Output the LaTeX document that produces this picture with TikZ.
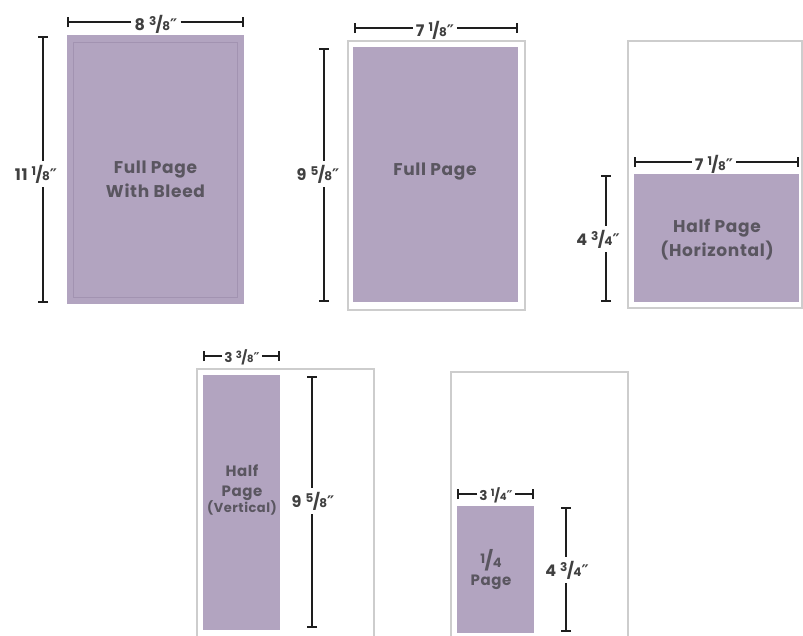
\documentclass[tikz,border=0pt]{standalone}
\usepackage{fontspec}
\setmainfont{Poppins}[LetterSpace=4]
\newfontfamily\djv{DejaVu Sans}
\usetikzlibrary{arrows.meta}
\definecolor{lav}{HTML}{B2A4C0}
\definecolor{lavedge}{HTML}{A293B1}
\definecolor{txt}{HTML}{5A5660}
\definecolor{dimc}{HTML}{1E1E1E}
\definecolor{dimtxt}{HTML}{404040}
\definecolor{frame}{HTML}{CDCDCD}
\newcommand\fr[2]{\raisebox{0.3em}{\fontsize{12}{12}\selectfont #1}\kern-0.6pt/\kern-0.6pt{\fontsize{12}{12}\selectfont #2}}
\newcommand\frs[2]{\raisebox{0.3em}{\fontsize{10}{10}\selectfont #1}\kern-0.5pt/\kern-0.5pt{\fontsize{10}{10}\selectfont #2}}
\newcommand\frq[2]{\raisebox{0.3em}{\fontsize{13}{13}\selectfont #1}\kern-0.6pt{\fontsize{19}{19}\selectfont/}\kern-0.6pt{\fontsize{13}{13}\selectfont #2}}
\newcommand\inch{{\djv\bfseries ″}}
\begin{document}
\begin{tikzpicture}[x=1pt,y=-1pt,
  ad/.style={fill=lav,draw=none},
  frm/.style={draw=frame,line width=1.3pt,fill=white},
  dim/.style={draw=dimc,line width=2.7pt,-{Bar[width=10pt,line width=2.2pt]}},
  lbl/.style={inner sep=0pt,align=center,font=\bfseries\fontsize{17}{24}\selectfont,text=txt},
  lbs/.style={inner sep=0pt,align=center,font=\bfseries\fontsize{15}{20}\selectfont,text=txt},
  dl/.style={inner xsep=3pt,inner ysep=4pt,font=\bfseries\fontsize{16}{16}\selectfont,text=dimtxt},
  dls/.style={inner xsep=2pt,inner ysep=3pt,font=\bfseries\fontsize{13.5}{13.5}\selectfont,text=dimtxt}
]
\useasboundingbox (0,0) rectangle (803,635);
\fill[white] (0,0) rectangle (803,635);

% ---------- Full page with bleed ----------
\path[ad] (67,35) rectangle (244,304);
\draw[lavedge,line width=0.8pt] (73,42) rectangle (237,297);
\node[lbl] (t1) at (155.5,179) {Full Page\\With Bleed};
\coordinate (h1a) at (67,22); \coordinate (h1b) at (244,22);
\node[dl] (d1h) at (156,24) {8 \fr38\inch};
\draw[dim] (d1h.west |- h1a) -- (h1a);
\draw[dim] (d1h.east |- h1b) -- (h1b);
\coordinate (v1a) at (43,36); \coordinate (v1b) at (43,303);
\node[dl] (d1v) at (36,174) {11 \fr18\inch};
\draw[dim] (d1v.north -| v1a) -- (v1a);
\draw[dim] (d1v.south -| v1b) -- (v1b);

% ---------- Full page ----------
\draw[frm] (348,41) rectangle (525,310);
\path[ad] (353,47) rectangle (518,302);
\node[lbl] (t2) at (435,172) {Full Page};
\coordinate (h2a) at (354,28); \coordinate (h2b) at (518,28);
\node[dl] (d2h) at (435,30) {7 \fr18\inch};
\draw[dim] (d2h.west |- h2a) -- (h2a);
\draw[dim] (d2h.east |- h2b) -- (h2b);
\coordinate (v2a) at (324,48); \coordinate (v2b) at (324,302);
\node[dl] (d2v) at (318,174) {9 \fr58\inch};
\draw[dim] (d2v.north -| v2a) -- (v2a);
\draw[dim] (d2v.south -| v2b) -- (v2b);

% ---------- Half page horizontal ----------
\draw[frm] (628,41) rectangle (802,308);
\path[ad] (634,174) rectangle (799,302);
\node[lbl] (t3) at (717,240) {Half Page\\(Horizontal)};
\coordinate (h3a) at (634,162); \coordinate (h3b) at (799,162);
\node[dl] (d3h) at (714,164) {7 \fr18\inch};
\draw[dim] (d3h.west |- h3a) -- (h3a);
\draw[dim] (d3h.east |- h3b) -- (h3b);
\coordinate (v3a) at (606,175); \coordinate (v3b) at (606,302);
\node[dl] (d3v) at (598,239) {4 \fr34\inch};
\draw[dim] (d3v.north -| v3a) -- (v3a);
\draw[dim] (d3v.south -| v3b) -- (v3b);

% ---------- Half page vertical ----------
\draw[frm] (197,369) rectangle (374,645);
\path[ad] (203,375) rectangle (280,630);
\node[lbs] (t4) at (242,490) {Half\\Page\\[-4pt]{\fontsize{13}{15}\selectfont(Vertical)}};
\coordinate (h4a) at (203,356); \coordinate (h4b) at (280,356);
\node[dls] (d4h) at (242,357) {3 \frs38\inch};
\draw[dim] (d4h.west |- h4a) -- (h4a);
\draw[dim] (d4h.east |- h4b) -- (h4b);
\coordinate (v4a) at (312,376); \coordinate (v4b) at (312,628);
\node[dl] (d4v) at (313,501) {9 \fr58\inch};
\draw[dim] (d4v.north -| v4a) -- (v4a);
\draw[dim] (d4v.south -| v4b) -- (v4b);

% ---------- Quarter page ----------
\draw[frm] (451,372) rectangle (628,645);
\path[ad] (457,506) rectangle (534,633);
\node[lbs] (t5) at (491,570) {\frq14\\[-2pt]Page};
\coordinate (h5a) at (457,494); \coordinate (h5b) at (534,494);
\node[dls] (d5h) at (496,495) {3 \frs14\inch};
\draw[dim] (d5h.west |- h5a) -- (h5a);
\draw[dim] (d5h.east |- h5b) -- (h5b);
\coordinate (v5a) at (566,507); \coordinate (v5b) at (566,632);
\node[dl] (d5v) at (567,570) {4 \fr34\inch};
\draw[dim] (d5v.north -| v5a) -- (v5a);
\draw[dim] (d5v.south -| v5b) -- (v5b);
\end{tikzpicture}
\end{document}
